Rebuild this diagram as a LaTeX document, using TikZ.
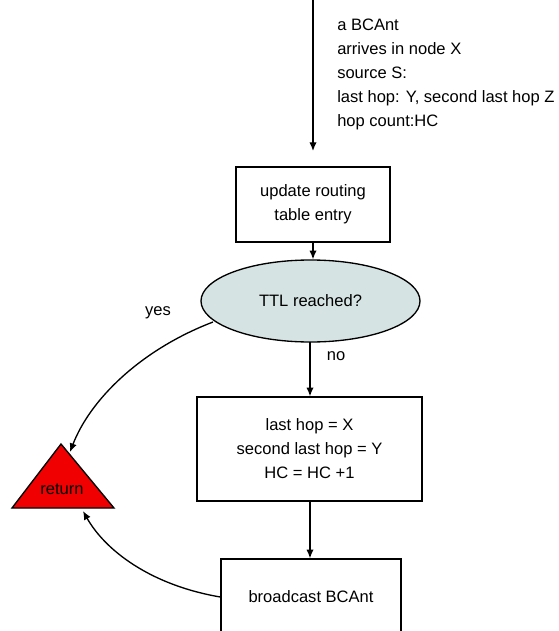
\documentclass[tikz,border=0pt]{standalone}
\usepackage{fontspec}
\setmainfont{Liberation Sans}
\usetikzlibrary{arrows.meta,shapes.geometric}
\definecolor{ellfill}{RGB}{214,227,227}
\definecolor{retred}{RGB}{240,0,0}
\tikzset{
  conn/.style={line width=1pt,-{Latex[length=6.5pt,width=5.5pt]}},
  boxnode/.style={draw,line width=1pt,align=center,inner sep=0pt},
  lbl/.style={inner sep=0pt,align=center}
}
\begin{document}
\begin{tikzpicture}[x=0.75pt,y=-0.75pt,font=\fontsize{12.4}{18}\selectfont]
\useasboundingbox (0,0) rectangle (559,631);
\clip (0,0) rectangle (559,631);
% nodes
\node[lbl,anchor=west,align=left] (info) at (337,74) {a BCAnt\\arrives in node X\\source S:\\last hop: Y, second last hop Z\\hop count:HC};
\node[boxnode,minimum width=115.5pt,minimum height=56.25pt] (upd) at (313,204.5) {update routing\\table entry};
\node[draw,line width=1pt,ellipse,fill=ellfill,inner sep=0pt,minimum width=164.25pt,minimum height=61.5pt] (ttl) at (310.5,301) {TTL reached?};
\node[boxnode,minimum width=168.75pt,minimum height=78pt] (set) at (309.5,449) {last hop = X\\second last hop = Y\\HC = HC +1};
\node[boxnode,minimum width=135pt,minimum height=57pt] (bc) at (311,597) {broadcast BCAnt};
% triangle
\coordinate (ta) at (61,444);
\coordinate (tl) at (12,508);
\coordinate (tr) at (114,508);
\draw[line width=1pt,fill=retred] (ta) -- (tl) -- (tr) -- cycle;
\node[lbl] (ret) at (62,489) {return};
% labels
\node[lbl] (yes) at (158,313) {yes};
\node[lbl] (no) at (336,356) {no};
% connectors
\coordinate (start) at (313,0);
\coordinate (startend) at (313,151);
\draw[conn] (start) -- (startend);
\draw[conn] (upd.south) -- (upd.south |- ttl.north);
\coordinate (ttlbot) at (310,342);
\draw[conn] (ttlbot) -- (ttlbot |- set.north);
\coordinate (setbot) at (310,501);
\draw[conn] (setbot) -- (setbot |- bc.north);
\coordinate (yesstart) at (213,322);
\coordinate (yesend) at (70,452);
\draw[conn] (yesstart) .. controls (140,350) and (90,400) .. (yesend);
\coordinate (bcleft) at (bc.west |- 0,597);
\coordinate (retend) at (83,511);
\draw[conn] (bcleft) .. controls (150,585) and (105,550) .. (retend);
\end{tikzpicture}
\end{document}
